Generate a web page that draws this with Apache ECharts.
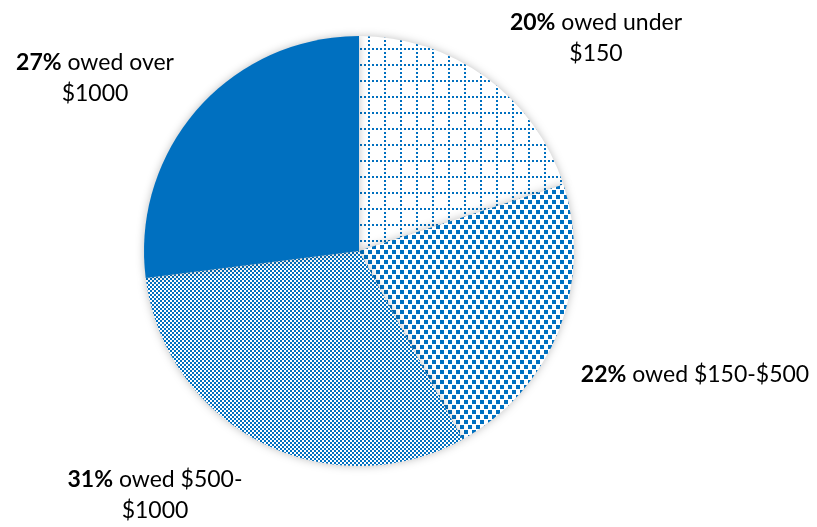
<!DOCTYPE html>
<html><head><meta charset="utf-8">
<script src="https://cdn.jsdelivr.net/npm/echarts@6/dist/echarts.min.js"></script>
<style>html,body{margin:0;padding:0;background:#fff}#c{width:817px;height:527px}</style>
</head><body><div id="c"></div>
<script>
const categories = ['owed under\n$150', 'owed $150-$500', 'owed $500-\n$1000', 'owed over\n$1000'];
const values = [20, 22, 31, 27];
const labelPos = [[596, 38], [695, 375], [155, 495], [95, 78]];

const BLUE = '#0070C0';
function pat(w, h, draw) {
  const c = document.createElement('canvas'); c.width = w; c.height = h;
  const ctx = c.getContext('2d');
  ctx.fillStyle = '#fff'; ctx.fillRect(0, 0, w, h);
  ctx.fillStyle = BLUE; draw(ctx); return c;
}
const gridPat = pat(16, 16, ctx => {
  for (let x = 0; x < 16; x += 4) ctx.fillRect(x, 0, 2, 2);
  for (let y = 4; y < 16; y += 4) ctx.fillRect(0, y, 2, 2);
});
const confetti = pat(8, 10, ctx => {
  ctx.fillRect(0, 0, 4, 4); ctx.fillRect(4, 5, 4, 4);
});
const checker = pat(4, 4, ctx => {
  ctx.fillRect(0, 0, 2, 2); ctx.fillRect(2, 2, 2, 2); ctx.fillRect(1, 1, 1, 1); ctx.fillRect(3, 3, 1, 1);
});
const fills = [
  { image: gridPat, repeat: 'repeat' },
  { image: confetti, repeat: 'repeat' },
  { image: checker, repeat: 'repeat' },
  BLUE
];

const chart = echarts.init(document.getElementById('c'));
chart.setOption({
  animation: false,
  series: [{
    type: 'pie',
    center: [359, 251],
    radius: 215,
    startAngle: 90,
    clockwise: true,
    data: categories.map((n, i) => ({ name: n, value: values[i], itemStyle: { color: fills[i] } })),
    itemStyle: { borderWidth: 0, shadowBlur: 8, shadowColor: 'rgba(0,0,0,0.25)' },
    label: {
      show: true,
      position: 'outside',
      overflow: 'none',
      formatter: p => '{b|' + p.percent.toFixed(0) + '%} ' + p.name,
      fontFamily: 'Lato', fontSize: 23, color: '#000', lineHeight: 31, align: 'center',
      rich: { b: { fontFamily: 'Lato', fontSize: 23, fontWeight: 'bold', color: '#000', lineHeight: 31 } }
    },
    labelLine: { show: false },
    labelLayout: p => ({ x: labelPos[p.dataIndex][0], y: labelPos[p.dataIndex][1], align: 'center', verticalAlign: 'middle' }),
    emphasis: { disabled: true }
  }]
});
</script></body></html>
